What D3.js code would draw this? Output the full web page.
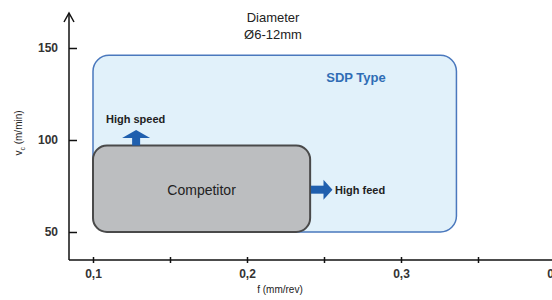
<!DOCTYPE html>
<html>
<head>
<meta charset="utf-8">
<script src="https://cdn.jsdelivr.net/npm/d3@7"></script>
<style>
  body { margin: 0; background: #fff; }
  svg { font-family: "Liberation Sans", Arial, sans-serif; }
</style>
</head>
<body>
<svg width="552" height="300"></svg>
<script>
var WIDTH = 552;
var HEIGHT = 300;

// tick values and labels
var xTicks = [0.1, 0.15, 0.2, 0.25, 0.3, 0.35, 0.4];
var xLabels = ['0,1', '', '0,2', '', '0,3', '', '0,4'];
var yTicks = [50, 100, 150];

// regions: [fMin, fMax, vMin, vMax]
var sdpRegion = [0.1, 0.336, 50, 146];
var competitorRegion = [0.1, 0.241, 50, 97];

// arrows: start and end in data units
var speedArrow = [0.128, 97, 0.128, 105.5];
var feedArrow = [0.2415, 73, 0.2555, 73];

var svg = d3.select('svg');

var xScale = d3.scaleLinear();
xScale.domain([0.1, 0.4]);
xScale.range([93, 555]);

var yScale = d3.scaleLinear();
yScale.domain([50, 150]);
yScale.range([232, 48]);

var x0 = 69;
var y0 = 260;

// SDP region
svg.append('rect')
  .attr('x', xScale(sdpRegion[0]))
  .attr('y', yScale(sdpRegion[3]))
  .attr('width', xScale(sdpRegion[1]) - xScale(sdpRegion[0]))
  .attr('height', yScale(sdpRegion[2]) - yScale(sdpRegion[3]))
  .attr('rx', 16)
  .attr('fill', '#e1f1fa')
  .attr('stroke', '#4a78bd')
  .attr('stroke-width', 1.5);

// competitor region
svg.append('rect')
  .attr('x', xScale(competitorRegion[0]))
  .attr('y', yScale(competitorRegion[3]))
  .attr('width', xScale(competitorRegion[1]) - xScale(competitorRegion[0]))
  .attr('height', yScale(competitorRegion[2]) - yScale(competitorRegion[3]))
  .attr('rx', 14)
  .attr('fill', '#bcbec0')
  .attr('stroke', '#4a4a4a')
  .attr('stroke-width', 2);

svg.append('text')
  .attr('x', (xScale(competitorRegion[0]) + xScale(competitorRegion[1])) / 2)
  .attr('y', yScale(73) + 5)
  .attr('text-anchor', 'middle')
  .attr('font-size', 14)
  .attr('fill', '#222')
  .text('Competitor');

svg.append('text')
  .attr('x', 356)
  .attr('y', 82)
  .attr('text-anchor', 'middle')
  .attr('font-size', 13)
  .attr('font-weight', 'bold')
  .attr('fill', '#2f6db5')
  .text('SDP Type');

// arrows
var arrowColor = '#1f5fae';
// high speed (up)
var sx = xScale(speedArrow[0]);
var sy0 = yScale(speedArrow[1]);
var sy1 = yScale(speedArrow[3]);
svg.append('rect')
  .attr('x', sx - 4).attr('y', sy1 + 7)
  .attr('width', 8).attr('height', sy0 - sy1 - 7)
  .attr('fill', arrowColor);
svg.append('path')
  .attr('d', 'M' + (sx - 14) + ',' + (sy1 + 8) + 'L' + sx + ',' + sy1 + 'L' + (sx + 14) + ',' + (sy1 + 8) + 'Z')
  .attr('fill', arrowColor);
svg.append('text')
  .attr('x', 106).attr('y', 123)
  .attr('font-size', 11).attr('font-weight', 'bold')
  .attr('fill', '#222')
  .text('High speed');

// high feed (right)
var fx0 = xScale(feedArrow[0]);
var fx1 = xScale(feedArrow[2]);
var fy = yScale(feedArrow[1]);
svg.append('rect')
  .attr('x', fx0).attr('y', fy - 4)
  .attr('width', fx1 - fx0 - 7).attr('height', 8)
  .attr('fill', arrowColor);
svg.append('path')
  .attr('d', 'M' + (fx1 - 9) + ',' + (fy - 10) + 'L' + fx1 + ',' + fy + 'L' + (fx1 - 9) + ',' + (fy + 10) + 'Z')
  .attr('fill', arrowColor);
svg.append('text')
  .attr('x', 335).attr('y', fy + 4)
  .attr('font-size', 11).attr('font-weight', 'bold')
  .attr('fill', '#222')
  .text('High feed');

// axes
var xAxis = d3.axisBottom(xScale)
  .tickValues(xTicks)
  .tickFormat(function(d, i) { return xLabels[i]; })
  .tickSize(3)
  .tickPadding(6);

var gx = svg.append('g')
  .attr('transform', 'translate(0,' + y0 + ')')
  .call(xAxis);
gx.select('.domain').remove();
gx.selectAll('.tick line').attr('y1', -3).attr('stroke', '#111').attr('stroke-width', 1.5);
gx.selectAll('.tick text')
  .attr('font-size', 12).attr('font-weight', 'bold')
  .attr('font-family', '"Liberation Sans", Arial, sans-serif')
  .attr('fill', '#333');

var yAxis = d3.axisLeft(yScale)
  .tickValues(yTicks)
  .tickSize(-8)
  .tickPadding(11);

var gy = svg.append('g')
  .attr('transform', 'translate(' + x0 + ',0)')
  .call(yAxis);
gy.select('.domain').remove();
gy.selectAll('.tick line').attr('stroke', '#111').attr('stroke-width', 1.5);
gy.selectAll('.tick text')
  .attr('font-size', 12).attr('font-weight', 'bold')
  .attr('font-family', '"Liberation Sans", Arial, sans-serif')
  .attr('fill', '#333');

// axis lines
svg.append('line')
  .attr('x1', x0).attr('y1', y0).attr('x2', WIDTH).attr('y2', y0)
  .attr('stroke', '#111').attr('stroke-width', 1.5);
svg.append('line')
  .attr('x1', x0).attr('y1', y0).attr('x2', x0).attr('y2', 14)
  .attr('stroke', '#111').attr('stroke-width', 1.5);
svg.append('path')
  .attr('d', 'M' + (x0 - 5) + ',22L' + x0 + ',13L' + (x0 + 5) + ',22')
  .attr('fill', 'none').attr('stroke', '#111').attr('stroke-width', 1.5);

// axis titles
svg.append('text')
  .attr('x', 280).attr('y', 293)
  .attr('text-anchor', 'middle')
  .attr('font-size', 10)
  .attr('fill', '#222')
  .text('f (mm/rev)');

var yTitle = svg.append('text')
  .attr('transform', 'translate(22,133) rotate(-90)')
  .attr('text-anchor', 'middle')
  .attr('font-size', 10)
  .attr('fill', '#222');
yTitle.append('tspan').text('v');
yTitle.append('tspan').attr('font-size', 7).attr('dy', 3).text('c');
yTitle.append('tspan').attr('dy', -3).text(' (m/min)');

// title
svg.append('text')
  .attr('x', 273).attr('y', 22)
  .attr('text-anchor', 'middle')
  .attr('font-size', 13)
  .attr('fill', '#222')
  .text('Diameter');
svg.append('text')
  .attr('x', 273).attr('y', 39)
  .attr('text-anchor', 'middle')
  .attr('font-size', 13)
  .attr('fill', '#222')
  .text('Ø6-12mm');
</script>
</body>
</html>
